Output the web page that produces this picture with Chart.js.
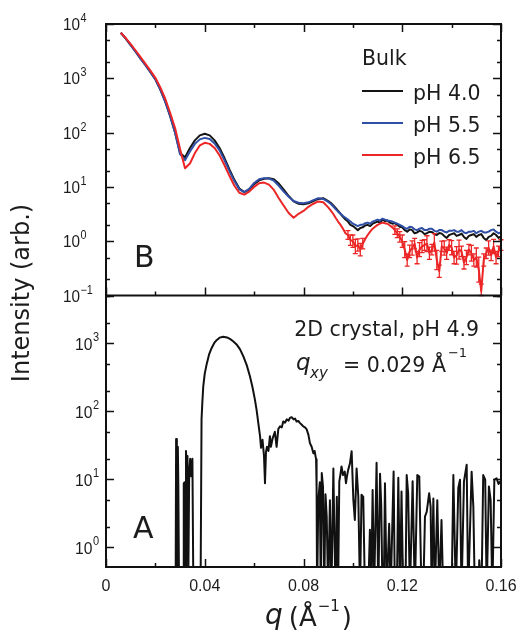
<!DOCTYPE html>
<html>
<head>
<meta charset="utf-8">
<title>Bulk and 2D crystal scattering</title>
<script src="https://cdn.jsdelivr.net/npm/chart.js@4.4.0/dist/chart.umd.min.js"></script>
<style>
  html, body { margin: 0; padding: 0; background: #fff; }
</style>
</head>
<body>
<canvas id="chart" width="518" height="637"></canvas>
<script>
// =========================
//  DATA  (q in 1/Å, intensity arb.)
// =========================
const qBulk = [
  0.006, 0.008, 0.010, 0.012, 0.014, 0.016, 0.018, 0.020, 0.022, 0.024,
  0.026, 0.028, 0.030, 0.032, 0.034, 0.036, 0.038, 0.040, 0.042, 0.044,
  0.046, 0.048, 0.050, 0.052, 0.054, 0.056, 0.058, 0.060, 0.062, 0.064,
  0.066, 0.068, 0.070, 0.072, 0.074, 0.076, 0.078, 0.080, 0.082, 0.084,
  0.086, 0.088, 0.090,
  0.091, 0.092, 0.093, 0.094, 0.095, 0.096, 0.097, 0.098, 0.099, 0.100,
  0.101, 0.102, 0.103, 0.104, 0.105, 0.106, 0.107, 0.108, 0.109, 0.110,
  0.111, 0.112, 0.113, 0.114, 0.115, 0.116, 0.117, 0.118, 0.119, 0.120,
  0.121, 0.122, 0.123, 0.124, 0.125, 0.126, 0.127, 0.128, 0.129, 0.130,
  0.131, 0.132, 0.133, 0.134, 0.135, 0.136, 0.137, 0.138, 0.139, 0.140,
  0.141, 0.142, 0.143, 0.144, 0.145, 0.146, 0.147, 0.148, 0.149, 0.150,
  0.151, 0.152, 0.153, 0.154, 0.155, 0.156, 0.157, 0.158, 0.159, 0.160
];

const bulkPH40 = [
  6900, 5400, 4100, 3100, 2300, 1740, 1290, 955, 620, 370,
  200, 100, 42, 35, 52, 72, 89, 95, 89, 72,
  52, 34, 21, 13.5, 9.3, 8, 8.9, 11.2, 13.2, 14.1,
  14.5, 13.8, 11.5, 8.9, 6.8, 5.4, 4.9, 4.8, 5.0, 5.5,
  6.0, 6.2, 5.5,
  5.1, 4.6, 4.1, 3.6, 3.2, 2.8, 2.5, 2.3, 2.0, 1.9,
  1.75, 1.6, 1.75, 1.8, 1.95, 2.0, 1.9, 2.1, 2.2, 2.3,
  2.2, 2.5, 2.35, 2.4, 2.2, 2.1, 2.15, 2.0, 1.85, 1.8,
  1.6, 1.5, 1.65, 1.6, 1.4, 1.45, 1.55, 1.5, 1.35, 1.4,
  1.5, 1.48, 1.35, 1.3, 1.42, 1.38, 1.25, 1.15, 1.3, 1.35,
  1.4, 1.25, 1.3, 1.38, 1.2, 1.1, 1.25, 1.3, 1.35, 1.2,
  1.3, 1.35, 1.15, 1.05, 1.2, 1.25, 1.4, 1.3, 1.15, 1.23
];

const bulkPH55 = [
  6900, 5400, 4100, 3100, 2300, 1740, 1290, 955, 620, 370,
  200, 98, 40, 31, 45, 62, 75, 80, 76, 63,
  47, 31, 19.5, 12.8, 9, 8, 9.2, 11.8, 13.8, 14.5,
  14.3, 13, 10.5, 8.2, 6.6, 5.5, 5.1, 5.0, 5.2, 5.7,
  6.2, 6.0, 5.3,
  4.9, 4.4, 3.9, 3.5, 3.2, 2.9, 2.7, 2.5, 2.3, 2.1,
  2.0, 1.9, 2.0, 2.0, 2.15, 2.2, 2.1, 2.3, 2.4, 2.5,
  2.4, 2.6, 2.5, 2.4, 2.35, 2.3, 2.2, 2.1, 2.0, 1.9,
  1.75, 1.7, 1.85, 1.8, 1.65, 1.6, 1.7, 1.75, 1.6, 1.6,
  1.7, 1.7, 1.55, 1.5, 1.6, 1.6, 1.5, 1.45, 1.55, 1.55,
  1.6, 1.5, 1.5, 1.6, 1.45, 1.4, 1.5, 1.5, 1.55, 1.4,
  1.5, 1.55, 1.45, 1.45, 1.5, 1.6, 1.65, 1.5, 1.4, 1.45
];

const bulkPH65 = [
  6900, 5500, 4250, 3250, 2450, 1850, 1380, 1020, 680, 420,
  230, 120, 50, 22, 27, 42, 58, 65, 62, 52,
  38, 25, 16, 10.5, 7.8, 7.2, 8.2, 10, 11.7, 12,
  11, 8.8, 6.2, 4.5, 3.3, 2.7, 3.2, 3.6, 4.3, 4.9,
  5.4, 5.2, 4.2,
  3.7, 3.2, 2.7, 2.3, 2.0, 1.7, 1.4, 1.3, 1.05, 1.0,
  0.8, 0.85, 0.7, 0.9, 1.1, 1.3, 1.5, 1.7, 1.85, 2.0,
  2.1, 2.2, 2.15, 2.1, 1.95, 1.8, 1.6, 1.4, 1.2, 1.0,
  0.7, 0.45, 0.65, 0.75, 0.9, 0.5, 0.7, 0.8, 0.85, 0.9,
  0.6, 0.7, 0.95, 0.45, 0.28, 0.8, 0.75, 0.6, 0.85, 0.76,
  0.5, 0.55, 0.7, 0.65, 0.4, 0.5, 0.7, 0.6, 0.45, 0.5,
  0.3, 0.12, 0.45, 0.6, 0.75, 0.55, 0.8, 0.5, 0.65, 0.85
];

// error bar factor (value * f, value / f) for the pH 6.5 tail, q = 0.091 .. 0.160
const errPH65Tail = [
  0, 0, 0, 0, 0, 0, 0, 1.2, 1.25, 1.3,
  1.35, 1.3, 1.3, 1.25, 0, 0, 0, 0, 0, 0,
  0, 0, 0, 0, 0, 0, 1.2, 1.2, 1.25, 1.3,
  1.4, 1.3, 1.3, 1.35, 1.25, 1.3, 1.35, 1.3, 1.25, 1.4,
  1.3, 1.25, 1.45, 1.5, 1.3, 1.25, 1.35, 1.3, 1.25, 1.35,
  1.3, 1.45, 1.5, 1.25, 1.3, 1.35, 1.25, 1.4, 1.3, 1.5,
  1.7, 1.35, 1.3, 1.25, 1.35, 1.25, 1.35, 1.3, 1.25, 1.25
];

const qCrystal = [
  0.0282, 0.0284, 0.0287, 0.0289, 0.0291, 0.0293, 0.0296, 0.0313, 0.0315, 0.0318,
  0.0321, 0.0324, 0.0327, 0.0330, 0.0333, 0.0337, 0.0341, 0.0345, 0.0350, 0.0354,
  0.0383, 0.0387, 0.0390, 0.0394, 0.0400, 0.0408, 0.0418, 0.0428, 0.0438, 0.0448,
  0.0460, 0.0475, 0.0490, 0.0502, 0.0515, 0.0529, 0.0543, 0.0556, 0.0570, 0.0583,
  0.0593, 0.0603, 0.0610, 0.0617, 0.0624, 0.0628, 0.0634, 0.0640, 0.0644, 0.0648,
  0.0652, 0.0658, 0.0664, 0.0668, 0.0675, 0.0684, 0.0691, 0.0698, 0.0705, 0.0712,
  0.0718, 0.0725, 0.0732, 0.0740, 0.0745, 0.0752, 0.0760, 0.0766, 0.0772, 0.0779,
  0.0786, 0.0792, 0.0799, 0.0806, 0.0813, 0.0820, 0.0826, 0.0833, 0.0840, 0.0845,
  0.0851, 0.0853, 0.0855, 0.0860, 0.0866, 0.0870, 0.0874, 0.0879, 0.0884, 0.0889,
  0.0894, 0.0900, 0.0907, 0.0913, 0.0921, 0.0925, 0.0930, 0.0935, 0.0940, 0.0945,
  0.0950, 0.0954, 0.0960, 0.0967, 0.0972, 0.0976, 0.0981, 0.0988, 0.0995, 0.1002,
  0.1008, 0.1015, 0.1022, 0.1029, 0.1035, 0.1042, 0.1049, 0.1062, 0.1069, 0.1074,
  0.1080, 0.1086, 0.1096, 0.1103, 0.1110, 0.1115, 0.1120, 0.1125, 0.1130, 0.1137,
  0.1147, 0.1153, 0.1165, 0.1170, 0.1178, 0.1184, 0.1191, 0.1197, 0.1204, 0.1213,
  0.1218, 0.1224, 0.1231, 0.1242, 0.1251, 0.1261, 0.1269, 0.1278, 0.1285, 0.1292,
  0.1299, 0.1304, 0.1309, 0.1315, 0.1319, 0.1326, 0.1332, 0.1342, 0.1350, 0.1359,
  0.1366, 0.1400, 0.1407, 0.1417, 0.1427, 0.1434, 0.1440, 0.1450, 0.1461, 0.1467,
  0.1481, 0.1488, 0.1494, 0.1508, 0.1512, 0.1521, 0.1528, 0.1536, 0.1542, 0.1551,
  0.1558, 0.1565, 0.1573, 0.1582, 0.1590, 0.1600
];

// values below the axis floor (0.2) just run off the panel bottom
const crystalPH49 = [
  0.2, 39, 27, 0.2, 30, 8.3, 0.2, 0.2, 8.7, 9,
  0.2, 26, 12, 22, 0.2, 13, 20, 11, 20, 0.2,
  0.2, 76, 130, 234, 360, 500, 700, 860, 1010, 1120,
  1220, 1260, 1230, 1170, 1080, 970, 820, 650, 480, 330,
  230, 150, 105, 67, 43, 29, 38, 22, 8.7, 25,
  30, 26, 43, 30, 40, 50, 30, 55, 60, 58,
  71, 68, 76, 73, 80, 82, 76, 78, 71, 72,
  67, 64, 60, 58, 54, 45, 34, 30, 24, 26,
  19.6, 7.8, 0.2, 4.9, 9, 0.2, 12.3, 7.8, 0.2, 6,
  2.8, 0.2, 4.9, 0.2, 14.4, 1.6, 0.2, 5.5, 0.2, 9.3,
  12, 15.4, 11.5, 12.9, 8.7, 11, 13.7, 17, 25.8, 4.9,
  2.5, 14.4, 5.5, 0.2, 5.9, 5.5, 0.2, 0.2, 1.8, 0.2,
  6.9, 0.2, 17.4, 0.2, 12, 4, 0.2, 0.2, 8.7, 0.2,
  2.2, 0.2, 13, 0.2, 0.2, 10.5, 0.2, 6.6, 0.2, 0.2,
  11.5, 6.2, 0.2, 9.3, 0.2, 11.5, 10.9, 0.2, 0.2, 2.8,
  3.3, 4.5, 6.2, 3.9, 0.2, 5.2, 0.2, 4.9, 0.2, 2.5,
  0.2, 0.2, 11.5, 0.2, 7.4, 9.8, 0.2, 9.3, 16.3, 0.2,
  12.9, 3.9, 0.2, 0.2, 0.64, 0.2, 11.5, 9.8, 0.2, 7.8,
  4.9, 0.2, 9.8, 10.3, 8.5, 9.5
];

const bulkLabels = ["pH 4.0", "pH 5.5", "pH 6.5"];
const bulkColors = ["#141414", "#2f4fa6", "#ec2626"];

const xTickValues = [0, 0.04, 0.08, 0.12, 0.16];
const xTickLabels = ["0", "0.04", "0.08", "0.12", "0.16"];
const xMinorValues = [0.02, 0.06, 0.10, 0.14];
const bulkDecades = [-1, 0, 1, 2, 3, 4];
const crystalDecades = [0, 1, 2, 3];

// =========================
//  HELPERS
// =========================
const toPoints = (xs, ys) => xs.map((x, i) => ({ x: x, y: ys[i] }));
const errPH65 = new Array(qBulk.length - errPH65Tail.length).fill(0).concat(errPH65Tail);
const TEXT = "#1c1c1c";
const SANS = "'DejaVu Sans', sans-serif";
const ARIAL = "'Liberation Sans', Arial, sans-serif";

function drawText(ctx, str, x, y, font, opts = {}) {
  ctx.save();
  ctx.font = font;
  ctx.fillStyle = opts.color || TEXT;
  ctx.textAlign = opts.align || "left";
  ctx.textBaseline = "alphabetic";
  ctx.translate(x, y);
  if (opts.sx) ctx.scale(opts.sx, 1);
  ctx.fillText(str, 0, 0);
  const w = ctx.measureText(str).width * (opts.sx || 1);
  ctx.restore();
  return w;
}

function powerLabel(ctx, exp, x, py, big, small, sx, dx, baseOff, supOff) {
  const w = drawText(ctx, "10", x, py + baseOff, big, { sx: sx });
  const e = exp < 0 ? "\u2212" + Math.abs(exp) : String(exp);
  drawText(ctx, e, x + w + dx, py + supOff, small, { sx: sx });
}

function logTicks(ctx, scale, area) {
  const lo = Math.floor(Math.log10(scale.min));
  const hi = Math.ceil(Math.log10(scale.max));
  for (let d = lo; d <= hi; d++) {
    [1, 2, 5].forEach(m => {
      const v = m * Math.pow(10, d);
      if (v < scale.min || v > scale.max) return;
      const py = Math.round(scale.getPixelForValue(v)) + 0.5;
      const len = m === 1 ? 8 : 4;
      ctx.beginPath();
      ctx.moveTo(area.left, py); ctx.lineTo(area.left + len, py);
      ctx.moveTo(area.right, py); ctx.lineTo(area.right - len, py);
      ctx.stroke();
    });
  }
}

function xTicks(ctx, xs, yEdge, dir) {
  const all = xTickValues.map(v => [v, 8]).concat(xMinorValues.map(v => [v, 4]));
  all.forEach(([v, len]) => {
    const px = Math.round(xs.getPixelForValue(v)) + 0.5;
    ctx.beginPath();
    ctx.moveTo(px, yEdge); ctx.lineTo(px, yEdge + dir * len);
    ctx.stroke();
  });
}

// =========================
//  DECORATION PLUGIN
// =========================
const panelDecor = {
  id: "panelDecor",
  afterDatasetsDraw(chart) {
    const { ctx, chartArea: a, scales } = chart;
    const xs = scales.x, yA = scales.yA, yB = scales.yB;
    ctx.save();

    // error bars on the pH 6.5 tail
    ctx.strokeStyle = bulkColors[2];
    ctx.lineWidth = 1.3;
    qBulk.forEach((q, i) => {
      const f = errPH65[i];
      if (!f) return;
      const v = bulkPH65[i];
      const px = xs.getPixelForValue(q);
      const yHi = yB.getPixelForValue(v * f);
      const yLo = Math.min(yB.getPixelForValue(v / f), yB.bottom);
      ctx.beginPath();
      ctx.moveTo(px, yHi); ctx.lineTo(px, yLo);
      ctx.moveTo(px - 2.5, yHi); ctx.lineTo(px + 2.5, yHi);
      ctx.moveTo(px - 2.5, yLo); ctx.lineTo(px + 2.5, yLo);
      ctx.stroke();
    });

    // frames
    ctx.strokeStyle = "#111";
    ctx.lineWidth = 2;
    ctx.strokeRect(a.left, a.top, a.right - a.left, a.bottom - a.top);
    ctx.beginPath();
    ctx.moveTo(a.left, yB.bottom); ctx.lineTo(a.right, yB.bottom);
    ctx.stroke();

    // tick marks, all pointing inward
    ctx.lineWidth = 1.5;
    logTicks(ctx, yB, a);
    logTicks(ctx, yA, a);
    xTicks(ctx, xs, yB.top, 1);
    xTicks(ctx, xs, yB.bottom, -1);
    xTicks(ctx, xs, yA.bottom, -1);

    // y tick labels
    bulkDecades.forEach(d => {
      powerLabel(ctx, d, 63, yB.getPixelForValue(Math.pow(10, d)),
        "17px " + ARIAL, "12px " + ARIAL, 0.9, 0.5, 6, -2);
    });
    crystalDecades.forEach(d => {
      powerLabel(ctx, d, 75, yA.getPixelForValue(Math.pow(10, d)),
        "17px " + ARIAL, "12px " + ARIAL, 0.92, 0.5, 7, -2);
    });

    // x tick labels
    xTickValues.forEach((v, i) => {
      drawText(ctx, xTickLabels[i], xs.getPixelForValue(v), 591, "16px " + ARIAL, { align: "center" });
    });

    // axis titles
    ctx.save();
    ctx.translate(29, 293);
    ctx.rotate(-Math.PI / 2);
    drawText(ctx, "Intensity (arb.)", 0, 0, "24px " + SANS, { align: "center" });
    ctx.restore();

    let tx = 265;
    tx += drawText(ctx, "q", tx, 624, "oblique 28px " + SANS) + 6;
    tx += drawText(ctx, "(", tx, 626, "26px " + SANS);
    tx += drawText(ctx, "\u00c5", tx, 626, "26px " + SANS) + 1;
    tx += drawText(ctx, "\u22121", tx, 611, "15px " + SANS) + 2;
    drawText(ctx, ")", tx, 626, "26px " + SANS);

    // panel letters
    drawText(ctx, "B", 134, 267, "30px " + SANS);
    drawText(ctx, "A", 133, 538, "30px " + SANS);

    // legend for the bulk curves
    drawText(ctx, "Bulk", 362, 65, "20.5px " + SANS);
    const bulkSets = chart.data.datasets.filter(ds => ds.yAxisID === "yB");
    bulkLabels.forEach((lab, i) => {
      const ds = bulkSets.find(s => s.label === lab);
      const ly = 91 + i * 32;
      ctx.strokeStyle = ds.borderColor;
      ctx.lineWidth = 2;
      ctx.beginPath();
      ctx.moveTo(362, ly); ctx.lineTo(403, ly);
      ctx.stroke();
      drawText(ctx, lab, 413, ly + 9, "20.5px " + SANS);
    });

    // crystal annotation
    drawText(ctx, "2D crystal, pH 4.9", 479, 336, "20.5px " + SANS, { align: "right" });
    drawText(ctx, "q", 296, 370, "oblique 23px " + SANS);
    drawText(ctx, "xy", 310, 378, "oblique 15px " + SANS);
    let ax = 343;
    ax += drawText(ctx, "= 0.029 \u00c5", ax, 372, "20.5px " + SANS) + 2;
    drawText(ctx, "\u22121", ax, 357, "13px " + SANS);

    ctx.restore();
  }
};

// =========================
//  CHART
// =========================
const hidden = {
  ticks: { display: false },
  grid: { display: false, drawTicks: false },
  border: { display: false }
};

new Chart(document.getElementById("chart"), {
  type: "line",
  data: {
    datasets: [
      {
        label: bulkLabels[2], data: toPoints(qBulk, bulkPH65), yAxisID: "yB",
        borderColor: bulkColors[2], borderWidth: 2, order: 0
      },
      {
        label: bulkLabels[1], data: toPoints(qBulk, bulkPH55), yAxisID: "yB",
        borderColor: bulkColors[1], borderWidth: 2, order: 1
      },
      {
        label: bulkLabels[0], data: toPoints(qBulk, bulkPH40), yAxisID: "yB",
        borderColor: bulkColors[0], borderWidth: 2, order: 2
      },
      {
        label: "2D crystal, pH 4.9", data: toPoints(qCrystal, crystalPH49), yAxisID: "yA",
        borderColor: "#111", borderWidth: 2, order: 3
      }
    ]
  },
  options: {
    responsive: false,
    animation: false,
    devicePixelRatio: 1,
    layout: { padding: { left: 0, right: 17, top: 24, bottom: 0 } },
    elements: { point: { radius: 0 }, line: { tension: 0, borderJoinStyle: "round" } },
    plugins: { legend: { display: false }, tooltip: { enabled: false } },
    scales: {
      x: Object.assign({
        type: "linear", min: 0, max: 0.16,
        afterFit: s => { s.height = 70; }
      }, hidden),
      yA: Object.assign({
        type: "logarithmic", position: "left", stack: "panels", stackWeight: 1,
        min: 0.507, max: 5100,
        afterFit: s => { s.width = 106; }
      }, hidden),
      yB: Object.assign({
        type: "logarithmic", position: "left", stack: "panels", stackWeight: 1,
        min: 0.1, max: 10000,
        afterFit: s => { s.width = 106; }
      }, hidden)
    }
  },
  plugins: [panelDecor]
});
</script>
</body>
</html>
